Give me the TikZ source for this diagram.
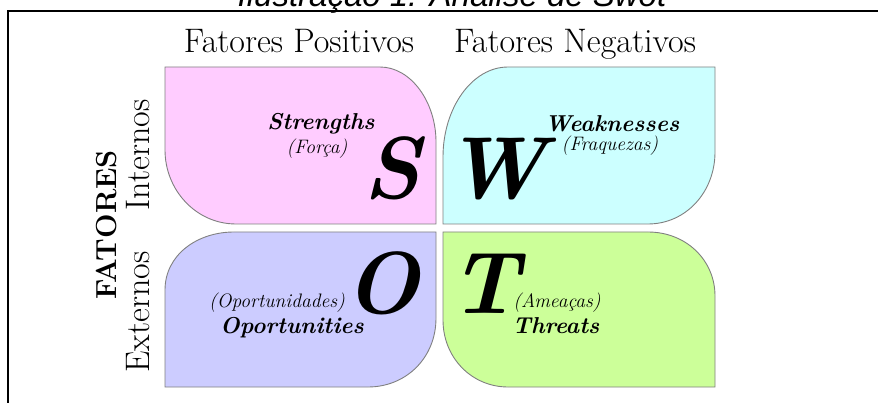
\documentclass[tikz,border=0pt]{standalone}
\usepackage{fontspec}
\newfontfamily\captionsans{Liberation Sans}
\usepackage{tikz}

\definecolor{strengthpink}{RGB}{255,204,255}
\definecolor{weakcyan}{RGB}{204,255,255}
\definecolor{opplavender}{RGB}{204,204,255}
\definecolor{threatgreen}{RGB}{204,255,153}
\definecolor{edgegray}{RGB}{128,128,128}

\begin{document}
\begin{tikzpicture}[x=1pt, y=-1pt,
    quad/.style={draw=edgegray, line width=0.9pt},
    bigletter/.style={font=\fontsize{88}{88}\selectfont\bfseries\itshape, anchor=base, inner sep=0pt},
    swotname/.style={font=\fontsize{23}{23}\selectfont\bfseries\itshape, anchor=base, inner sep=0pt},
    swotpt/.style={font=\fontsize{19.5}{19.5}\selectfont\itshape, anchor=base, inner sep=0pt},
    header/.style={font=\fontsize{34}{34}\selectfont, anchor=base, inner sep=0pt}
]
\useasboundingbox (0,0) rectangle (878,403);

% =========================
% Frame and caption
% =========================
\draw[line width=2pt] (8,420) -- (8,11) -- (900,11);
\node[font=\captionsans\itshape\fontsize{33}{33}\selectfont, anchor=base] (caption) at (452,7)
    {Ilustração 1: Análise de Swot};

% =========================
% Headers
% =========================
\node[header] (positivos) at (299,53) {Fatores Positivos};
\node[header] (negativos) at (575,53) {Fatores Negativos};

\node[rotate=90, font=\fontsize{29}{29}\selectfont\bfseries] (fatores) at (107,225) {FATORES};
\node[rotate=90, font=\fontsize{34}{34}\selectfont] (internos) at (138,155) {Internos};
\node[rotate=90, font=\fontsize{34}{34}\selectfont] (externos) at (138,312) {Externos};

% =========================
% Quadrants
% =========================
% Strengths
\draw[quad, fill=strengthpink]
    (165,67) -- (380,67)
    .. controls (411,67) and (436,102) .. (436,142)
    -- (436,224) -- (236,224)
    .. controls (196,224) and (165,190) .. (165,150)
    -- cycle;

% Weaknesses
\draw[quad, fill=weakcyan]
    (443,224) -- (443,157)
    .. controls (443,108) and (472,67) .. (508,67)
    -- (715,67) -- (715,152)
    .. controls (715,192) and (686,224) .. (648,224)
    -- cycle;

% Oportunities
\draw[quad, fill=opplavender]
    (165,387) -- (165,290)
    .. controls (165,255) and (197,232) .. (234,232)
    -- (436,232) -- (436,318)
    .. controls (436,358) and (406,387) .. (368,387)
    -- cycle;

% Threats
\draw[quad, fill=threatgreen]
    (443,232) -- (648,232)
    .. controls (686,232) and (715,260) .. (715,296)
    -- (715,387) -- (508,387)
    .. controls (472,387) and (443,358) .. (443,320)
    -- cycle;

% =========================
% Letters and names
% =========================
\node[bigletter] (sletter) at (392,199) {S};
\node[bigletter] (wletter) at (496,199) {W};
\node[bigletter] (oletter) at (382,313) {O};
\node[bigletter] (tletter) at (485,313) {T};

\node[swotname] (strengths) at (321,130) {Strengths};
\node[swotpt] (forca) at (317,154) {(Força)};

\node[swotname] (weaknesses) at (612,132) {Weaknesses};
\node[swotpt] (fraquezas) at (610,151) {(Fraquezas)};

\node[swotpt] (oportunidades) at (277,308) {(Oportunidades)};
\node[swotname] (oportunities) at (292,333) {Oportunities};

\node[swotpt] (ameacas) at (557,308) {(Ameaças)};
\node[swotname] (threats) at (556,333) {Threats};

\end{tikzpicture}
\end{document}
